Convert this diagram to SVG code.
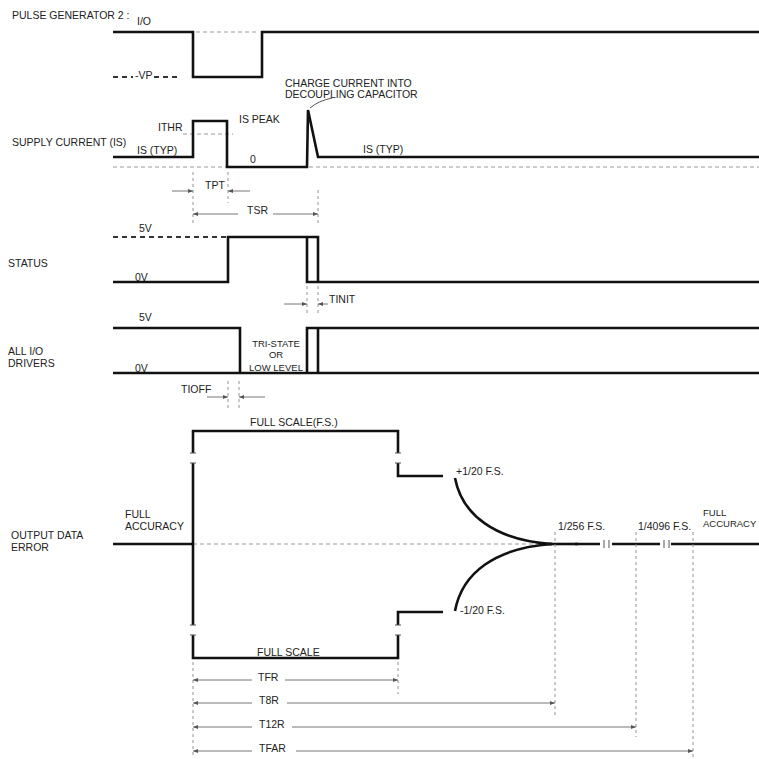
<svg xmlns="http://www.w3.org/2000/svg" width="759" height="759" viewBox="0 0 759 759">
<defs>
<style>
.wave{fill:none;stroke:#111;stroke-width:2.6;stroke-linejoin:miter}
.ref{fill:none;stroke:#999;stroke-width:1;stroke-dasharray:4 3}
.refd{fill:none;stroke:#333;stroke-width:1.8;stroke-dasharray:5 4}
.dim{fill:none;stroke:#666;stroke-width:0.9;marker-end:url(#arr)}
.ext{fill:none;stroke:#888;stroke-width:0.9;stroke-dasharray:3 3}
.tick{fill:none;stroke:#555;stroke-width:1}
text{font-family:"Liberation Sans",Arial,sans-serif;font-size:10.5px;fill:#222}
.sm{font-size:9.5px}
</style>
<marker id="arr" markerWidth="5" markerHeight="4" refX="5" refY="2" orient="auto" markerUnits="userSpaceOnUse">
<path d="M0,0 L5,2 L0,4 z" fill="#555"/>
</marker>
</defs>
<rect width="759" height="759" fill="#fff"/>

<g id="pulse-generator">
<text x="12" y="19">PULSE GENERATOR 2 :</text>
<text x="137" y="25">I/O</text>
<path class="ref" d="M196,32 H259"/>
<path class="refd" d="M113,77 H133 M154,77 H180"/>
<text x="135" y="79">-VP</text>
<path class="wave" d="M113,32 H193 V77 H262 V32 H759"/>
</g>

<g id="supply-current">
<text x="12" y="146">SUPPLY CURRENT (IS)</text>
<text x="137" y="154">IS (TYP)</text>
<text x="158" y="131">ITHR</text>
<path class="ref" d="M183,134 H233"/>
<path class="ref" d="M113,167 H759"/>
<path class="wave" d="M113,157 H193 V121 H227 V167 H307 L308,110 L318,157 H759"/>
<text x="250" y="163">0</text>
<text x="239" y="123">IS PEAK</text>
<text x="285" y="87">CHARGE CURRENT INTO</text>
<text x="285" y="98">DECOUPLING CAPACITOR</text>
<path fill="none" stroke="#555" stroke-width="1" d="M310,108 Q318,101 332,98"/>
<text x="363" y="153">IS (TYP)</text>
</g>

<g id="status">
<text x="8" y="267">STATUS</text>
<text x="139" y="232">5V</text>
<path class="refd" d="M113,237 H228"/>
<text x="135" y="281">0V</text>
<path class="wave" d="M113,282 H228 V237 H318 V282"/>
<path class="wave" d="M307,237 V282 H759"/>
</g>

<g id="io-drivers">
<text x="8" y="355">ALL I/O</text>
<text x="8" y="367">DRIVERS</text>
<text x="139" y="321">5V</text>
<text x="135" y="372">0V</text>
<path class="wave" d="M113,328 H240 V373"/>
<path class="wave" d="M113,373 H759"/>
<path class="wave" d="M307,373 V328 H759"/>
<path class="wave" d="M318,328 V373"/>
<text class="sm" x="276" y="347" text-anchor="middle">TRI-STATE</text>
<text class="sm" x="276" y="358" text-anchor="middle">OR</text>
<text class="sm" x="276" y="371" text-anchor="middle">LOW LEVEL</text>
</g>

<g id="output-data-error">
<text x="11" y="539">OUTPUT DATA</text>
<text x="11" y="551">ERROR</text>
<text x="125" y="518">FULL</text>
<text x="125" y="530">ACCURACY</text>
<path class="ref" d="M193,544 H552"/>
<path class="wave" d="M113,544 H193"/>
<path class="wave" d="M193,544 V463 M193,453 V431 H398 V453 M398,463 V476 H443"/>
<path class="wave" d="M193,544 V625 M193,635 V658 H398 V635 M398,625 V612 H443"/>
<path class="tick" d="M190,453 H196 M190,463 H196 M395,453 H401 M395,463 H401 M190,625 H196 M190,635 H196 M395,625 H401 M395,635 H401"/>
<path class="wave" d="M455,478 C462,515 495,540 552,544"/>
<path class="wave" d="M455,611 C462,573 495,548 552,544"/>
<path class="wave" stroke-width="3.4" d="M548,544 H578"/>
<path class="wave" d="M575,544 H600 M612,544 H660 M671,544 H759"/>
<path class="tick" d="M604,540 V548 M609,540 V548 M664,540 V548 M669,540 V548"/>
<text x="250" y="426">FULL SCALE(F.S.)</text>
<text x="257" y="656">FULL SCALE</text>
<text x="456" y="475">+1/20 F.S.</text>
<text x="460" y="614">-1/20 F.S.</text>
<text x="558" y="530">1/256 F.S.</text>
<text x="638" y="530">1/4096 F.S.</text>
<text class="sm" x="703" y="516">FULL</text>
<text class="sm" x="703" y="527">ACCURACY</text>
</g>

<g id="connectors">
<path class="ext" d="M193,172 V223 M228,172 V203 M318,190 V225"/>
<path class="dim" d="M172,191 H193"/>
<path class="dim" d="M250,191 H228"/>
<text x="205" y="189">TPT</text>
<path class="dim" d="M238,214 H193"/>
<path class="dim" d="M273,214 H318"/>
<text x="247" y="214">TSR</text>
<path class="ext" d="M307,286 V314 M318,286 V314"/>
<path class="dim" d="M284,304 H307"/>
<path class="dim" d="M328,304 H318"/>
<text x="329" y="303">TINIT</text>
<path class="ext" d="M228,381 V409 M239,381 V409"/>
<path class="dim" d="M207,397 H228"/>
<path class="dim" d="M265,397 H239"/>
<text x="181" y="393">TIOFF</text>
<path class="ext" d="M555,532 V718 M636,532 V737 M193,662 V758 M398,662 V694"/>
<path class="ext" stroke="#444" d="M693,532 V758"/>
<path class="dim" d="M252,680 H193"/>
<path class="dim" d="M285,680 H398"/>
<text x="258" y="681">TFR</text>
<path class="dim" d="M252,703 H193"/>
<path class="dim" d="M287,703 H555"/>
<text x="259" y="704">T8R</text>
<path class="dim" d="M252,727 H193"/>
<path class="dim" d="M292,727 H636"/>
<text x="259" y="728">T12R</text>
<path class="dim" d="M252,751 H193"/>
<path class="dim" d="M296,751 H693"/>
<text x="259" y="752">TFAR</text>
</g>
</svg>
